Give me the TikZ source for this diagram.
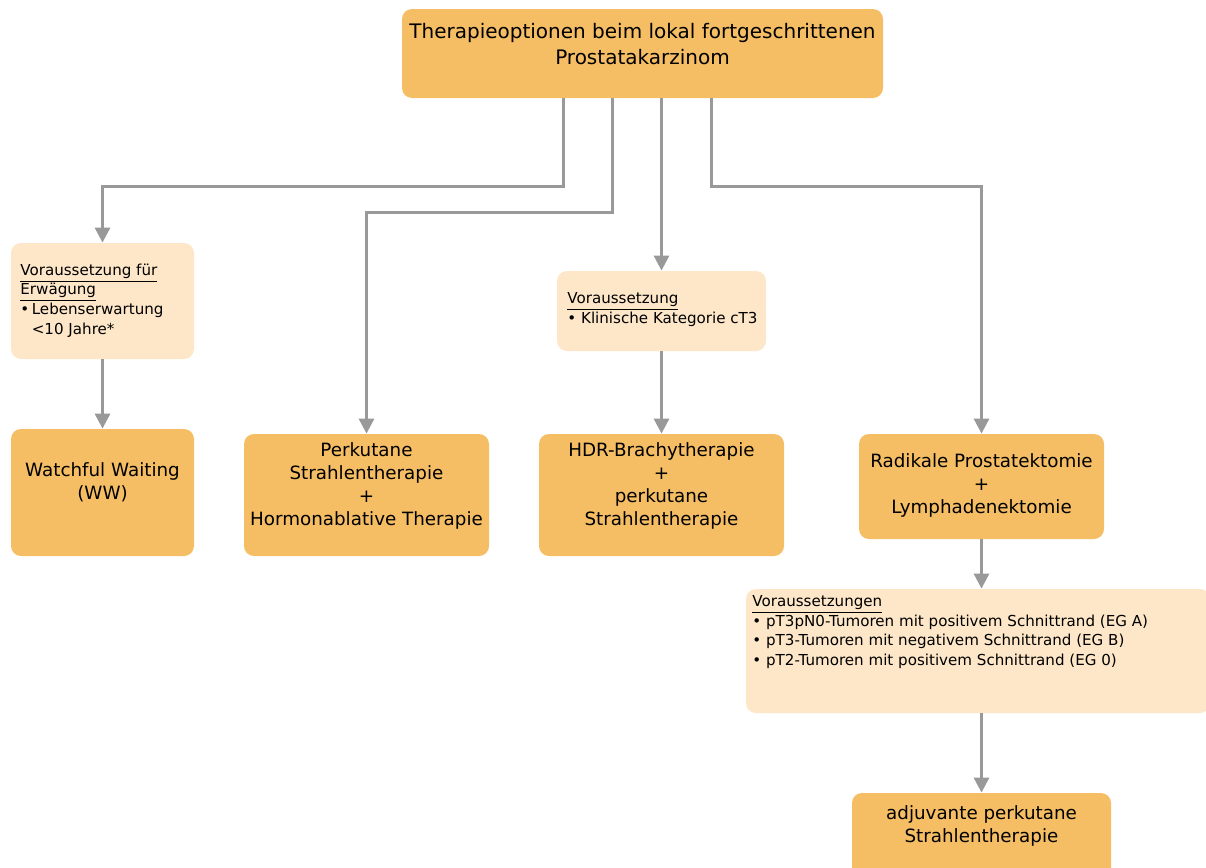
\documentclass[tikz,border=0pt]{standalone}
\usepackage{fontspec}
\setmainfont{DejaVu Sans}
\usetikzlibrary{arrows.meta}
\definecolor{boxdark}{RGB}{245,190,100}
\definecolor{boxlight}{RGB}{253,231,200}
\definecolor{linegray}{RGB}{153,153,153}
\tikzset{
  darkbox/.style={fill=boxdark, rounded corners=5pt, inner sep=0pt},
  lightbox/.style={fill=boxlight, rounded corners=5pt, inner sep=0pt},
  bigtxt/.style={align=center, font=\fontsize{9.15pt}{11.5pt}\selectfont, inner sep=0pt},
  smalltxt/.style={align=left, font=\fontsize{7.55pt}{9.9pt}\selectfont, inner sep=0pt, anchor=west},
  conn/.style={draw=linegray, line width=1.5pt, -{Triangle[width=7.5pt,length=7.5pt]}}
}

\begin{document}
\begin{tikzpicture}[x=0.5pt, y=-0.5pt]
        \useasboundingbox (0,0) rectangle (1206,868);
        \node [darkbox, minimum width=240.5pt, minimum height=44.5pt] (top) at (642.5,53.5) {};
        \node [lightbox, minimum width=91.5pt, minimum height=58pt] (voraus1) at (102.5,301) {};
        \node [darkbox, minimum width=91.5pt, minimum height=63.5pt] (ww) at (102.5,492.5) {};
        \node [darkbox, minimum width=122.5pt, minimum height=61pt] (perk) at (366.5,495) {};
        \node [lightbox, minimum width=104.5pt, minimum height=40pt] (voraus2) at (661.5,311) {};
        \node [darkbox, minimum width=122.5pt, minimum height=61pt] (hdr) at (661.5,495) {};
        \node [darkbox, minimum width=122.5pt, minimum height=52.5pt] (rp) at (981.5,486.5) {};
        \node [lightbox, minimum width=232pt, minimum height=62pt] (voraus3) at (978,651) {};
        \node [darkbox, minimum width=129.5pt, minimum height=43.5pt] (adj) at (981.5,836.5) {};

        \node [bigtxt, font=\fontsize{10pt}{13pt}\selectfont] (toptxt) at (642.5,44) {Therapieoptionen beim lokal fortgeschrittenen\\Prostatakarzinom};
        \node [bigtxt] (wwtxt) at (102.5,482) {Watchful Waiting\\(WW)};
        \node [bigtxt] (perktxt) at (366.5,485.5) {Perkutane\\Strahlentherapie\\+\\Hormonablative Therapie};
        \node [bigtxt] (hdrtxt) at (661.5,485.5) {HDR-Brachytherapie\\+\\perkutane\\Strahlentherapie};
        \node [bigtxt] (rptxt) at (981.5,485) {Radikale Prostatektomie\\+\\Lymphadenektomie};
        \node [bigtxt] (adjtxt) at (981.5,826) {adjuvante perkutane\\Strahlentherapie};
        \node [smalltxt] (v1txt) at (20,300.5) {\underline{Voraussetzung für}\\\underline{Erwägung}\\\textbullet\,Lebenserwartung\\\phantom{\textbullet\,}<10 Jahre*};
        \node [smalltxt] (v2txt) at (567,309.5) {\underline{Voraussetzung}\\\textbullet\ Klinische Kategorie cT3};
        \node [smalltxt] (v3txt) at (752,632) {\underline{Voraussetzungen}\\\textbullet\ pT3pN0-Tumoren mit positivem Schnittrand (EG A)\\\textbullet\ pT3-Tumoren mit negativem Schnittrand (EG B)\\\textbullet\ pT2-Tumoren mit positivem Schnittrand (EG 0)};

        \draw [conn] ([shift={(-79.5,0)}]top.south) -- ++(0,88) -| (voraus1.north);
        \draw [conn] ([shift={(-30.5,0)}]top.south) -- ++(0,114) -| (perk.north);
        \draw [conn] (top.south -| voraus2.north) -- (voraus2.north);
        \draw [conn] ([shift={(68.5,0)}]top.south) -- ++(0,88) -| (rp.north);
        \draw [conn] (voraus1.south) -- (ww.north);
        \draw [conn] (voraus2.south) -- (hdr.north);
        \draw [conn] (rp.south) -- (rp.south |- voraus3.north);
        \draw [conn] (voraus3.south -| adj.north) -- (adj.north);
    \end{tikzpicture}
\end{document}
